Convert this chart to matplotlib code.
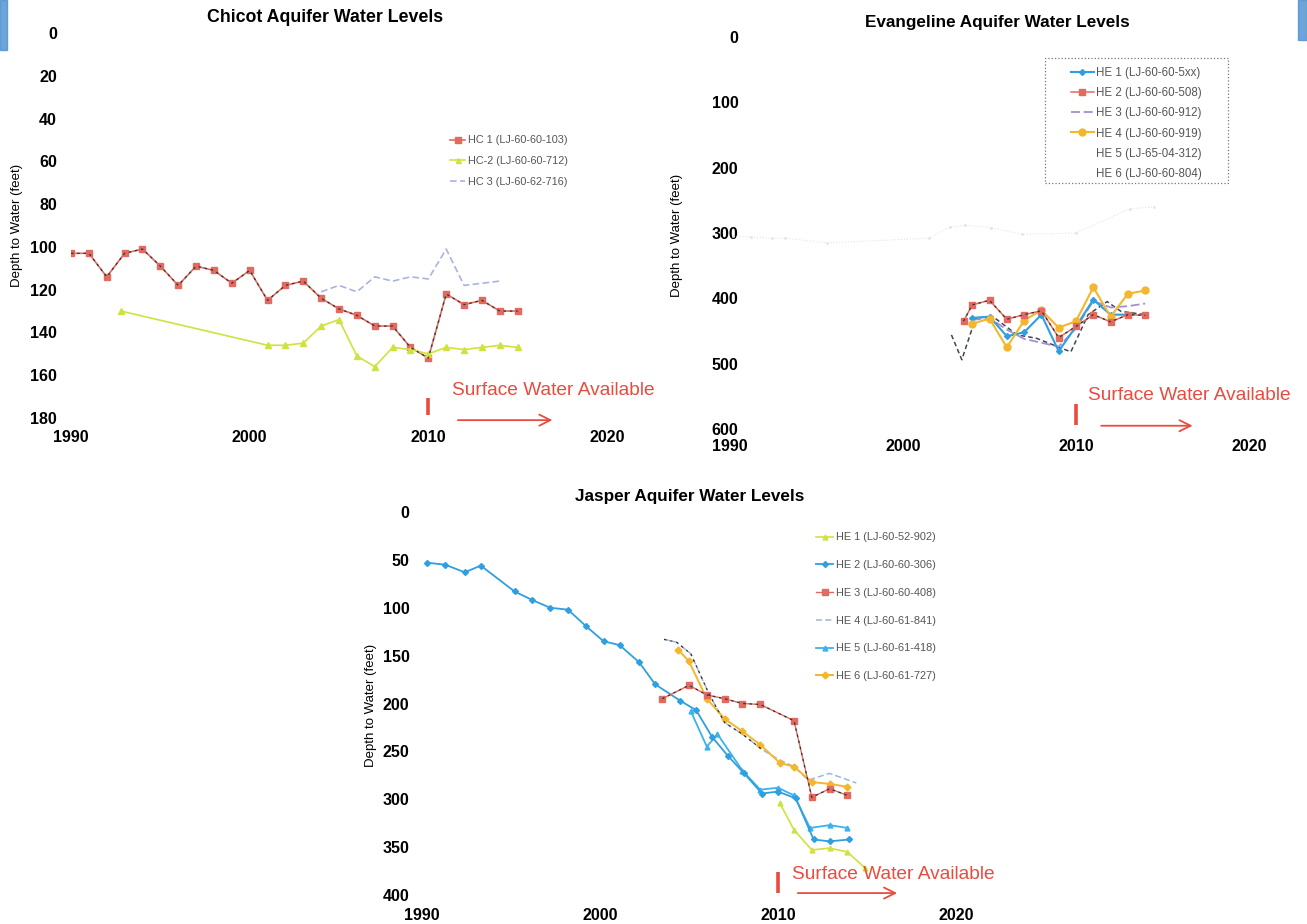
import matplotlib
matplotlib.use("Agg")
import matplotlib.pyplot as plt
from matplotlib.patches import Rectangle

plt.rcParams['font.family'] = ['Liberation Sans', 'DejaVu Sans']

W, H = 1307, 924
fig = plt.figure(figsize=(W / 100, H / 100), dpi=100)

# ---------------- data ----------------
x_ticks = [1990, 2000, 2010, 2020]

# Chicot
chicot_hc1_years = [1990, 1991, 1992, 1993, 1994, 1995, 1996, 1997, 1998, 1999, 2000, 2001, 2002,
                    2003, 2004, 2005, 2006, 2007, 2008, 2009, 2010, 2011, 2012, 2013, 2014, 2015]
chicot_hc1 = [103, 103, 114, 103, 101, 109, 118, 109, 111, 117, 111, 125, 118,
              116, 124, 129, 132, 137, 137, 147, 152, 122, 127, 125, 130, 130]
chicot_hc2_years = [1992.8, 2001, 2002, 2003, 2004, 2005, 2006, 2007, 2008, 2009, 2010, 2011, 2012, 2013, 2014, 2015]
chicot_hc2 = [130, 146, 146, 145, 137, 134, 151, 156, 147, 148, 150, 147, 148, 147, 146, 147]
chicot_hc3_years = [2004, 2005, 2006, 2007, 2008, 2009, 2010, 2011, 2012, 2014]
chicot_hc3 = [121, 118, 121, 114, 116, 114, 115, 101, 118, 116]
chicot_labels = ["HC 1 (LJ-60-60-103)", "HC-2 (LJ-60-60-712)", "HC 3 (LJ-60-62-716)"]
chicot_yticks = [0, 20, 40, 60, 80, 100, 120, 140, 160, 180]

# Evangeline
evan_he1_years = [2004, 2005, 2006, 2007, 2008, 2009, 2010, 2011, 2012, 2013]
evan_he1 = [430, 428, 458, 452, 425, 481, 443, 402, 425, 425]
evan_he2_years = [2003.5, 2004, 2005, 2006, 2007, 2008, 2009, 2010, 2011, 2012, 2013, 2014]
evan_he2 = [435, 410, 403, 432, 425, 419, 460, 443, 425, 436, 425, 426]
evan_he3_years = [2004, 2005, 2006, 2007, 2008, 2009, 2010, 2011, 2012, 2013, 2014]
evan_he3 = [433, 430, 448, 462, 468, 474, 446, 404, 414, 412, 408]
evan_he4_years = [2004, 2005, 2006, 2007, 2008, 2009, 2010, 2011, 2012, 2013, 2014]
evan_he4 = [439, 431, 475, 434, 418, 445, 435, 383, 428, 393, 388]
evan_he5_years = [2002.8, 2003.4, 2004.2, 2005.2, 2006.6, 2007.7, 2009.7, 2010.7, 2011.8, 2012.6, 2014.0]
evan_he5 = [456, 494, 430, 428, 456, 461, 482, 425, 405, 420, 425]
evan_he6_years = [1990.2, 1991.2, 1992.4, 1993.2, 1995.6, 2001.5, 2002.7, 2003.6, 2005.1, 2006.9, 2010.0, 2013.1, 2014.5]
evan_he6 = [305, 306, 308, 308, 315, 308, 291, 288, 292, 302, 300, 263, 260]
evan_labels = ["HE 1 (LJ-60-60-5xx)", "HE 2 (LJ-60-60-508)", "HE 3 (LJ-60-60-912)",
               "HE 4 (LJ-60-60-919)", "HE 5 (LJ-65-04-312)", "HE 6 (LJ-60-60-804)"]
evan_yticks = [0, 100, 200, 300, 400, 500, 600]

# Jasper
jas_he1_years = [2010.1, 2010.9, 2011.9, 2012.9, 2013.9, 2014.9]
jas_he1 = [304, 332, 353, 351, 355, 372]
jas_he2_years = [1990.3, 1991.3, 1992.4, 1993.3, 1995.2, 1996.2, 1997.2, 1998.2, 1999.2, 2000.2, 2001.1, 2002.2,
                 2003.1, 2004.5, 2005.4, 2006.3, 2007.2, 2008.1, 2009.1, 2010.0, 2011.0, 2012.0, 2012.9, 2014.0]
jas_he2 = [53, 55, 63, 56, 83, 92, 100, 102, 119, 135, 139, 157,
           180, 197, 207, 235, 255, 273, 294, 292, 299, 342, 344, 342]
jas_he3_years = [2003.5, 2005.0, 2006.0, 2007.0, 2008.0, 2009.0, 2010.9, 2011.9, 2012.9, 2013.9]
jas_he3 = [195, 181, 191, 195, 200, 201, 218, 298, 289, 296]
jas_he4_years = [2003.6, 2004.3, 2005.1, 2006.1, 2007.0, 2008.0, 2009.1, 2010.0, 2010.9, 2011.7, 2012.9, 2014.4]
jas_he4 = [133, 136, 148, 189, 220, 232, 248, 258, 266, 280, 273, 283]
jas_he5_years = [2005.1, 2006.0, 2006.6, 2008.0, 2009.0, 2010.0, 2010.9, 2011.8, 2012.9, 2013.9]
jas_he5 = [208, 245, 232, 270, 290, 288, 296, 330, 327, 330]
jas_he6_years = [2004.4, 2005.0, 2006.0, 2007.0, 2008.0, 2009.0, 2010.1, 2010.9, 2011.9, 2012.9, 2013.9]
jas_he6 = [144, 156, 195, 216, 229, 243, 262, 266, 282, 284, 287]
jas_labels = ["HE 1 (LJ-60-52-902)", "HE 2 (LJ-60-60-306)", "HE 3 (LJ-60-60-408)",
              "HE 4 (LJ-60-61-841)", "HE 5 (LJ-60-61-418)", "HE 6 (LJ-60-61-727)"]
jas_yticks = [0, 50, 100, 150, 200, 250, 300, 350, 400]

RED = '#e26a60'
LIME = '#cfe23e'
LAV = '#a9b3e3'
BLUE = '#2f9fe0'
GOLD = '#f4b62c'
PURP = '#a58fd4'
SW = '#ea4b3f'


def ax_px(l, t, r, b):
    return fig.add_axes([l / W, 1 - b / H, (r - l) / W, (b - t) / H])


def style(ax, ymax, yticks, xpad, ypad):
    ax.set_xlim(1990, 2020)
    ax.set_ylim(ymax, 0)
    for s in ax.spines.values():
        s.set_visible(False)
    ax.set_xticks(x_ticks)
    ax.set_yticks(yticks)
    ax.tick_params(axis='both', length=0, labelsize=11.5)
    ax.tick_params(axis='x', pad=xpad)
    ax.tick_params(axis='y', pad=ypad)
    for lab in ax.get_xticklabels() + ax.get_yticklabels():
        lab.set_fontweight('bold')
    ax.patch.set_visible(False)


def surface(ax, bar_y0, bar_y1, tx, ty, ax0, ax1, ay):
    ax.plot([2010, 2010], [bar_y0, bar_y1], color=SW, lw=2.6, clip_on=False, solid_capstyle='butt')
    ax.text(tx, ty, 'Surface Water Available', color=SW, fontsize=13.8, va='center', ha='left',
            clip_on=False)
    ax.annotate('', xy=(ax1, ay), xytext=(ax0, ay), annotation_clip=False,
                arrowprops=dict(arrowstyle='->', color=SW, lw=1.3, mutation_scale=20))


def dark(ax, x, y):
    ax.plot(x, y, color='#333333', lw=0.9, ls=(0, (2, 3)), zorder=3)


# scanner edge marks
fig.patches.append(Rectangle((0, 1 - 50 / H), 7 / W, 50 / H, transform=fig.transFigure,
                             color='#4a8fcf', alpha=0.8))
fig.patches.append(Rectangle((1 - 9 / W, 1 - 40 / H), 9 / W, 40 / H, transform=fig.transFigure,
                             color='#4a8fcf', alpha=0.8))

# ---------------- Chicot ----------------
ax1 = ax_px(71, 33, 607, 418)
style(ax1, 180, chicot_yticks, 9, 10)
l1, = ax1.plot(chicot_hc1_years, chicot_hc1, color=RED, lw=1.2, marker='s', ms=4.5,
               markerfacecolor=RED, markeredgecolor=RED, label=chicot_labels[0], zorder=2)
dark(ax1, chicot_hc1_years, chicot_hc1)
l2, = ax1.plot(chicot_hc2_years, chicot_hc2, color=LIME, lw=1.2, marker='^', ms=4,
               label=chicot_labels[1])
l3, = ax1.plot(chicot_hc3_years, chicot_hc3, color=LAV, lw=1.2, ls=(0, (4, 2)),
               label=chicot_labels[2])
ax1.set_ylabel('Depth to Water (feet)', fontsize=9.5)
ax1.yaxis.set_label_coords(-0.090, 0.5)
leg = ax1.legend(handles=[l1, l2, l3], loc='upper left', bbox_to_anchor=(446 / W, 1 - 131 / H),
                 bbox_transform=fig.transFigure, frameon=False, fontsize=7.8, labelspacing=1.0,
                 handlelength=1.4, handletextpad=0.2, markerscale=0.9, borderaxespad=0)
for t in leg.get_texts():
    t.set_color('#555555')
surface(ax1, 170.6, 178.6, 2011.3, 167, 2011.5, 2017.1, 181)
fig.text(325 / W, 1 - 18 / H, 'Chicot Aquifer Water Levels', ha='center', va='center',
         fontsize=12.8, fontweight='bold')

# ---------------- Evangeline ----------------
ax2 = ax_px(730, 37, 1249, 429)
style(ax2, 600, evan_yticks, 7, -6)
e6, = ax2.plot(evan_he6_years, evan_he6, color='#e4e4e4', lw=0.8, ls=':', marker='.', ms=2,
               label=evan_labels[5])
e5, = ax2.plot(evan_he5_years, evan_he5, color='#3c4656', lw=1.1, ls=(0, (3, 2)),
               label=evan_labels[4])
e3, = ax2.plot(evan_he3_years, evan_he3, color=PURP, lw=1.3, ls=(0, (5, 2)), label=evan_labels[2])
e1, = ax2.plot(evan_he1_years, evan_he1, color=BLUE, lw=1.5, marker='D', ms=3, label=evan_labels[0])
e4, = ax2.plot(evan_he4_years, evan_he4, color=GOLD, lw=1.5, marker='o', ms=5, label=evan_labels[3])
e2, = ax2.plot(evan_he2_years, evan_he2, color=RED, lw=1.1, marker='s', ms=5, label=evan_labels[1])
dark(ax2, evan_he2_years, evan_he2)
ax2.set_ylabel('Depth to Water (feet)', fontsize=9.5)
ax2.yaxis.set_label_coords(-0.090, 0.495)
fig.patches.append(Rectangle((1045 / W, 1 - 183 / H), 183 / W, 125 / H, transform=fig.transFigure,
                             fill=False, edgecolor='#777777', linestyle=':', linewidth=0.9))
leg2 = ax2.legend(handles=[e1, e2, e3, e4, e5, e6], loc='upper left',
                  bbox_to_anchor=(1066 / W, 1 - 62 / H), bbox_transform=fig.transFigure,
                  frameon=False, fontsize=8.3, labelspacing=0.72, handlelength=2.0,
                  handletextpad=0.2, borderaxespad=0)
for t in leg2.get_texts():
    t.set_color('#555555')
for h in leg2.legend_handles[4:]:
    h.set_visible(False)
surface(ax2, 562, 594, 2010.7, 548, 2011.3, 2016.9, 595)
fig.text(997 / W, 1 - 22 / H, 'Evangeline Aquifer Water Levels', ha='center', va='center',
         fontsize=12.3, fontweight='bold')

# ---------------- Jasper ----------------
ax3 = ax_px(422, 512, 956, 895)
style(ax3, 400, jas_yticks, 9, 9)
j4, = ax3.plot(jas_he4_years, jas_he4, color='#9fb8d8', lw=1.1, ls=(0, (4, 2)), label=jas_labels[3])
dark(ax3, jas_he4_years[:7], jas_he4[:7])
j1, = ax3.plot(jas_he1_years, jas_he1, color=LIME, lw=1.2, marker='^', ms=3.5, label=jas_labels[0])
j5, = ax3.plot(jas_he5_years, jas_he5, color='#3ab2ee', lw=1.3, marker='^', ms=3.5, label=jas_labels[4])
j2, = ax3.plot(jas_he2_years, jas_he2, color=BLUE, lw=1.3, marker='D', ms=3, label=jas_labels[1])
j6, = ax3.plot(jas_he6_years, jas_he6, color=GOLD, lw=1.4, marker='D', ms=3.5, label=jas_labels[5])
j3, = ax3.plot(jas_he3_years, jas_he3, color=RED, lw=1.0, marker='s', ms=5, label=jas_labels[2])
dark(ax3, jas_he3_years, jas_he3)
ax3.set_ylabel('Depth to Water (feet)', fontsize=9.5)
ax3.yaxis.set_label_coords(-0.085, 0.496)
leg3 = ax3.legend(handles=[j1, j2, j3, j4, j5, j6], loc='upper left',
                  bbox_to_anchor=(812 / W, 1 - 528 / H), bbox_transform=fig.transFigure,
                  frameon=False, fontsize=7.9, labelspacing=1.62, handlelength=1.5,
                  handletextpad=0.25, borderaxespad=0)
for t in leg3.get_texts():
    t.set_color('#555555')
surface(ax3, 376, 398, 2010.8, 379, 2010.96, 2016.85, 398)
fig.text(690 / W, 1 - 497 / H, 'Jasper Aquifer Water Levels', ha='center', va='center',
         fontsize=12.3, fontweight='bold')

fig.savefig('out.png', dpi=100)
